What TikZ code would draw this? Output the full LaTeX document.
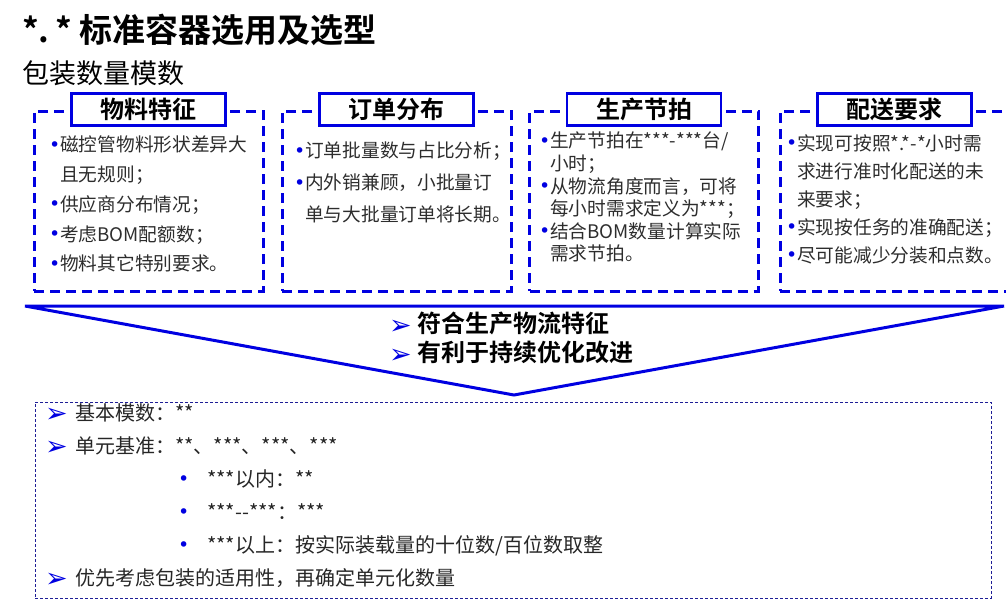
\documentclass[tikz,border=0pt]{standalone}
\usepackage{fontspec}
\setmainfont{Noto Sans CJK SC}[BoldFont={Noto Sans CJK SC Bold}]
\newfontfamily\symfont{DejaVu Sans}
\usepackage{xcolor}
\usetikzlibrary{positioning}
\definecolor{PkBlue}{RGB}{0,0,225}
\definecolor{PkNavy}{RGB}{30,30,150}
\definecolor{PkText}{RGB}{45,45,45}
\newcommand{\pdot}{\raisebox{0.5pt}{\textcolor{PkBlue}{\symfont\fontsize{19}{19}\selectfont •}}}
\newcommand{\bdot}{\makebox[8pt][l]{\hspace*{-3pt}\pdot}}
\newcommand{\bgap}{\hspace*{8pt}}
\newcommand{\barr}{\raisebox{-2pt}{\symfont\fontsize{27}{27}\selectfont\textcolor{PkBlue}{➢}}}
\newcommand{\larr}{\makebox[30pt][l]{\barr}}
\newcommand{\lbul}{\hspace*{133pt}\makebox[29pt][l]{\pdot}}

\begin{document}
\begin{tikzpicture}[x=1pt, y=-1pt,
          grp/.style={draw=PkBlue, line width=3pt, dash pattern=on 10pt off 6pt,
                      minimum width=229pt, minimum height=180pt, inner sep=0pt},
          hd/.style={draw=PkBlue, line width=2.5pt, fill=white, minimum width=154pt,
                     minimum height=32pt, inner sep=0pt,
                     font=\fontsize{24}{24}\selectfont\bfseries},
          itm/.style={anchor=north west, inner sep=0pt, align=left, text=PkText},
          line/.style={anchor=west, inner sep=0pt}
        ]
        \useasboundingbox (0,0) rectangle (1006,608);

        \node[line, font=\fontsize{33}{33}\selectfont\bfseries]
              (title) at (22,30) {*.\,* 标准容器选用及选型};
        \node[line, font=\fontsize{27}{27}\selectfont]
              (sub) at (22,73) {包装数量模数};

        \node[grp] (mat) at (148.5,201) {};
        \node[grp] (ord) at (396.5,201) {};
        \node[grp] (rhy) at (644,201) {};
        \node[grp] (del) at (894.5,201) {};

        \node[hd] (matT) at (mat.north) {物料特征};
        \node[hd] (ordT) at (ord.north) {订单分布};
        \node[hd] (rhyT) at (rhy.north) {生产节拍};
        \node[hd] (delT) at (del.north) {配送要求};

        \node[itm, font=\fontsize{18.7}{29.7}\selectfont] (matL) at (52,136)
              {\bdot 磁控管物料形状差异大\\ \bgap 且无规则；\\ \bdot 供应商分布情况；\\
               \bdot 考虑BOM配额数；\\ \bdot 物料其它特别要求。};
        \node[itm, font=\fontsize{18.7}{32}\selectfont] (ordL) at (297,142)
              {\bdot 订单批量数与占比分析；\\ \bdot 内外销兼顾，小批量订\\
               \bgap 单与大批量订单将长期。};
        \node[itm, font=\fontsize{18.7}{22.6}\selectfont] (rhyL) at (542,132)
              {\bdot 生产节拍在***-***台/\\ \bgap 小时；\\ \bdot 从物流角度而言，可将\\
               \bgap 每小时需求定义为***；\\ \bdot 结合BOM数量计算实际\\ \bgap 需求节拍。};
        \node[itm, font=\fontsize{18.7}{28}\selectfont] (delL) at (789,134)
              {\bdot 实现可按照*.*-*小时需\\ \bgap 求进行准时化配送的未\\ \bgap 来要求；\\
               \bdot 实现按任务的准确配送；\\ \bdot 尽可能减少分装和点数。};

        \coordinate (fl) at (25,306);
        \coordinate (fr) at (1004,306);
        \coordinate (tip) at (514,395);
        \draw[PkBlue, line width=3pt, fill=white, line join=miter] (fl) -- (fr) -- (tip) -- cycle;

        \node[anchor=north west, inner sep=0pt, align=left,
              font=\fontsize{24}{29}\selectfont\bfseries] (goal) at (389,312)
              {\barr\ 符合生产物流特征\\ \barr\ 有利于持续优化改进};

        \node[draw=PkNavy, line width=0.8pt, dash pattern=on 3pt off 2pt,
              minimum width=956pt, minimum height=196pt] (base) at (513,500) {};

        \node[itm, text=black!85, font=\fontsize{20}{33}\selectfont] (baseL) at (45,403)
              {\larr 基本模数：**\\ \larr 单元基准：**、***、***、***\\
               \lbul ***以内：**\\ \lbul ***-{}-***：***\\
               \lbul ***以上：按实际装载量的十位数/百位数取整\\
               \larr 优先考虑包装的适用性，再确定单元化数量};
      \end{tikzpicture}
\end{document}
